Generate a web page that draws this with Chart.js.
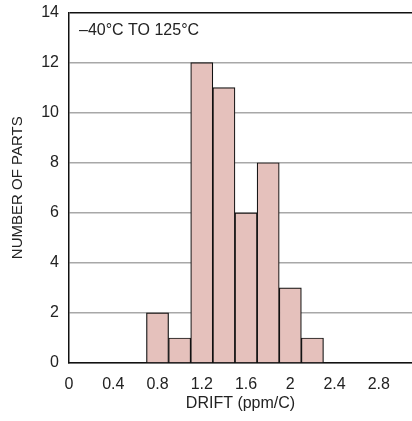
<!DOCTYPE html>
<html>
<head>
<meta charset="utf-8">
<script src="https://cdn.jsdelivr.net/npm/chart.js@4/dist/chart.umd.min.js"></script>
<style>
  html, body { margin: 0; padding: 0; background: #fff; }
  #wrap { width: 412px; height: 421px; }
</style>
</head>
<body>
<div id="wrap"><canvas id="hist"></canvas></div>
<script>
// drift histogram, bins of 0.2 ppm/C
const binCenters = [0.8, 1.0, 1.2, 1.4, 1.6, 1.8, 2.0, 2.2];
const partCounts = [2, 1, 12, 11, 6, 8, 3, 1];
const xTicks = [0, 0.4, 0.8, 1.2, 1.6, 2, 2.4, 2.8];
const yTicks = [0, 2, 4, 6, 8, 10, 12, 14];
const rangeNote = '\u201340\u00b0C TO 125\u00b0C';

const FONT = 'Liberation Sans, Arial, Helvetica, sans-serif';

const notePlugin = {
  id: 'note',
  afterDraw(chart) {
    const {ctx, chartArea} = chart;
    ctx.save();
    ctx.font = '16px ' + FONT;
    ctx.fillStyle = '#222';
    ctx.textBaseline = 'middle';
    ctx.fillText(rangeNote, chartArea.left + 10, chartArea.top + 18);
    ctx.restore();
  }
};

const ctx = document.getElementById('hist').getContext('2d');
const hist = new Chart(ctx, {
  type: 'bar',
  data: {
    datasets: [{
      label: 'Parts',
      data: binCenters.map((x, i) => ({x: x, y: partCounts[i]})),
      backgroundColor: '#e5c1bc',
      borderColor: '#111',
      borderWidth: 1.2,
      barPercentage: 1,
      categoryPercentage: 1
    }]
  },
  options: {
    responsive: true,
    maintainAspectRatio: false,
    animation: false,
    layout: { padding: { top: 12.5, right: 0, bottom: 0, left: 0 } },
    plugins: {
      legend: { display: false },
      tooltip: { enabled: false }
    },
    scales: {
      x: {
        type: 'linear',
        offset: false,
        min: 0,
        max: 3.1,
        afterBuildTicks: (s) => { s.ticks = xTicks.map(v => ({value: v})); },
        afterFit: (s) => { s.height = 58; s.paddingLeft = 0; s.paddingRight = 0; },
        grid: { display: false },
        border: { display: true, color: '#111', width: 1.5 },
        ticks: {
          color: '#222',
          padding: 4,
          font: { family: FONT, size: 16 },
          callback: (v) => String(v)
        },
        title: {
          display: true,
          text: 'DRIFT (ppm/C)',
          color: '#222',
          font: { family: FONT, size: 16 },
          padding: { top: 0, bottom: 8 }
        }
      },
      y: {
        min: 0,
        max: 14,
        afterBuildTicks: (s) => { s.ticks = yTicks.map(v => ({value: v})); },
        afterFit: (s) => { s.width = 69; s.paddingTop = 0; s.paddingBottom = 0; },
        grid: {
          drawTicks: false,
          color: (c) => c.tick && c.tick.value === 14 ? '#111' : '#a8a8a8',
          lineWidth: 1.5
        },
        border: { display: true, color: '#111', width: 1.5 },
        ticks: {
          color: '#222',
          padding: 10,
          font: { family: FONT, size: 16 }
        },
        title: {
          display: true,
          text: 'NUMBER OF PARTS',
          color: '#222',
          font: { family: FONT, size: 15 },
          padding: { top: 9, bottom: 0 }
        }
      }
    }
  },
  plugins: [notePlugin]
});
</script>
</body>
</html>
